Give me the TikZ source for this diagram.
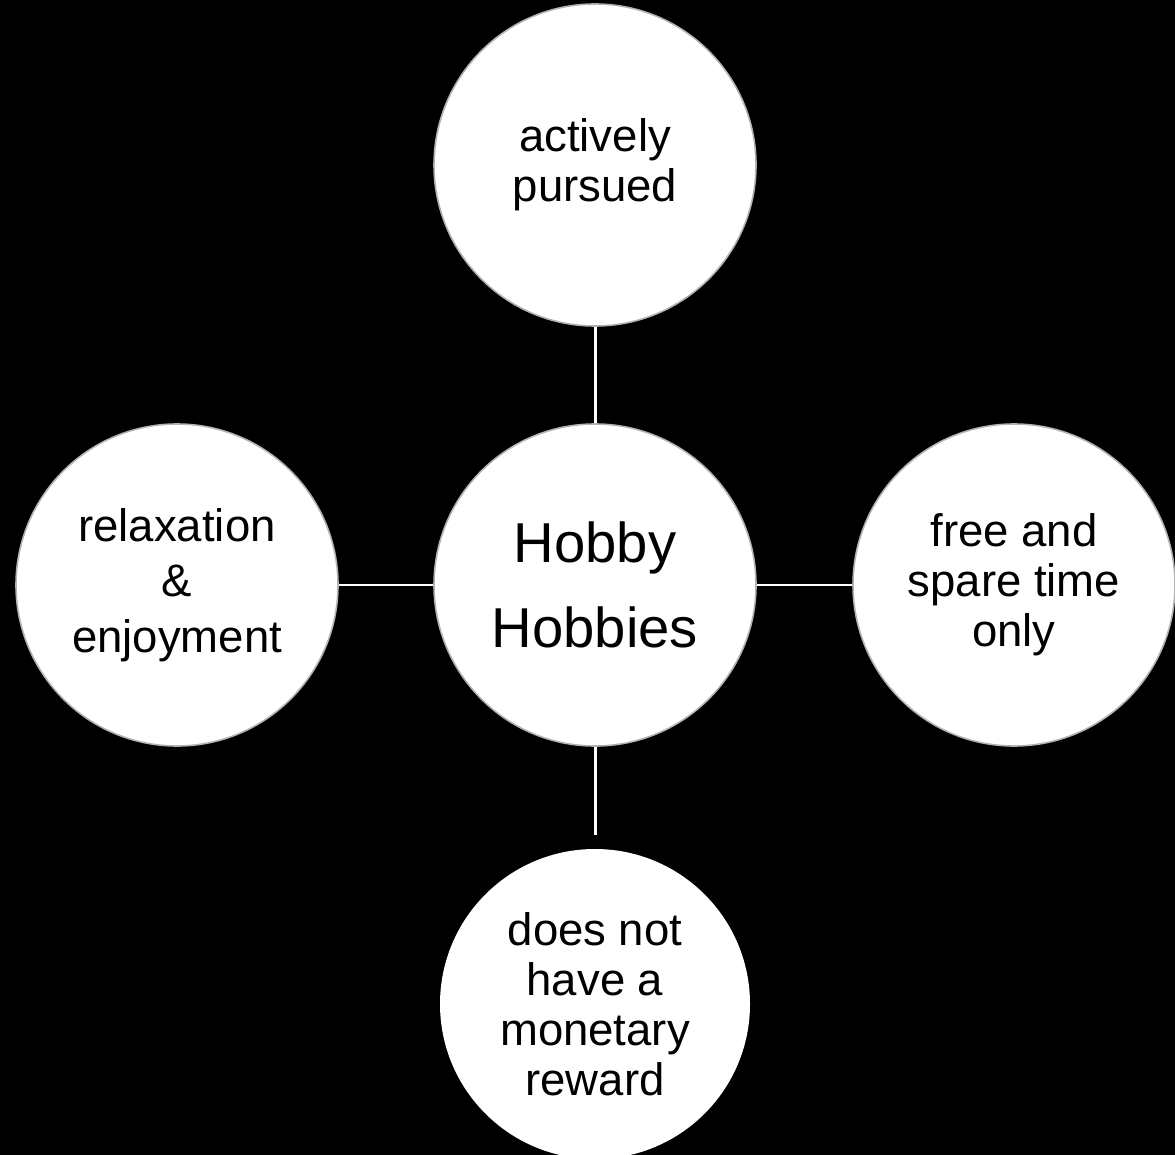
\documentclass[tikz,border=0pt]{standalone}
\usepackage{fontspec}
\setmainfont{Liberation Sans}
\usepackage{tikz}

\tikzset{
  bubble/.style={circle, fill=white, draw=gray!60, line width=0.9pt,
    minimum size=6.44cm, inner sep=0pt, align=center, text=black,
    font=\fontsize{25.9}{28.5}\selectfont},
  hubtext/.style={font=\fontsize{32}{48}\selectfont},
  link/.style={white, line width=1.7pt}
}

\begin{document}
\begin{tikzpicture}

  \fill[black] (0,0) rectangle (23.5,-23.1);
  \useasboundingbox (0,0) rectangle (23.5,-23.1);

  \node[bubble, hubtext] (hub) at (11.9,-11.7) {Hobby\\Hobbies};

  \node[bubble] (pursued) at (11.9,-3.3) {actively\\pursued};
  \node[bubble] (relax) at (3.54,-11.7) {relaxation\\[3pt]\&\\[3pt]enjoyment};
  \node[bubble] (spare) at (20.28,-11.7) {free and\\spare time\\only};
  \node[bubble, draw=none, minimum size=6.2cm] (reward) at (11.9,-20.08)
    {does not\\have a\\monetary\\reward};

  \coordinate (gap) at (11.9,-16.7);

  \draw[link] (hub) -- (pursued);
  \draw[link] (hub) -- (relax);
  \draw[link] (hub) -- (spare);
  \draw[link] (hub.south) -- (gap);

\end{tikzpicture}
\end{document}
